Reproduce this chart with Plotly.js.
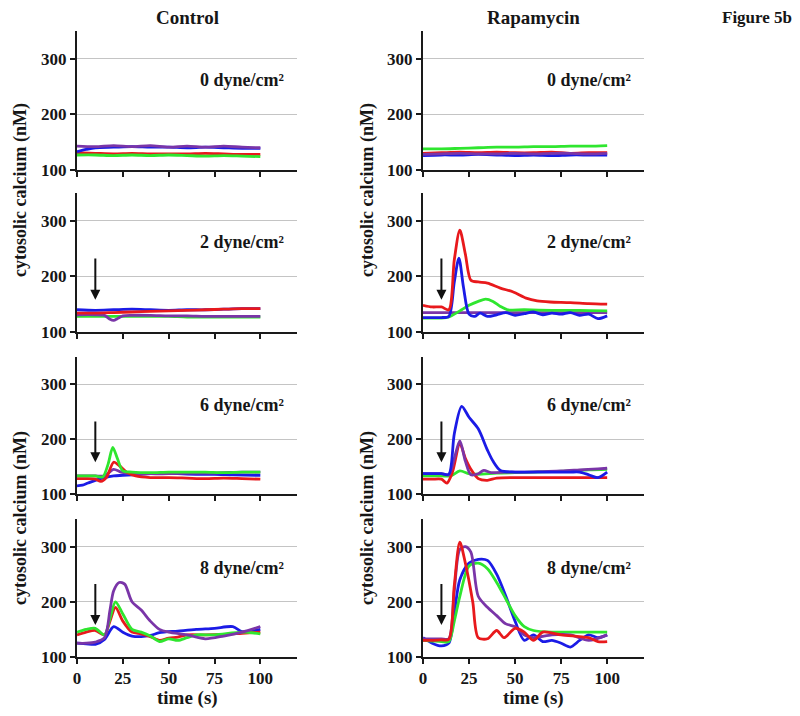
<!DOCTYPE html>
<html>
<head>
<meta charset="utf-8">
<script src="https://cdn.plot.ly/plotly-3.0.1.min.js"></script>
<style>html,body{margin:0;padding:0;background:#fff;}#chart{width:800px;height:716px;}</style>
</head>
<body>
<div id="chart"></div>
<script>
// ---------- Data ----------
const panelTitles = ["0 dyne/cm²", "2 dyne/cm²", "6 dyne/cm²", "8 dyne/cm²"];
const columnTitles = ["Control", "Rapamycin"];
const xTicks = [0, 25, 50, 75, 100];
const yTicks = [100, 200, 300];

// Control, 0 dyne
const c0_t = [0, 10, 20, 30, 40, 50, 60, 70, 80, 90, 100];
const c0_red = [131, 130, 129, 130, 129, 129, 129, 130, 129, 128, 128];
const c0_blue_t = [0, 5, 10, 20, 30, 40, 50, 60, 70, 80, 90, 100];
const c0_blue = [133, 137, 140, 141, 142, 141, 141, 140, 141, 140, 139, 139];
const c0_green = [127, 127, 126, 127, 126, 127, 126, 125, 126, 125, 124];
const c0_purple = [143, 142, 144, 142, 144, 141, 143, 141, 143, 141, 140];

// Rapamycin, 0 dyne
const r0_t = [0, 10, 20, 30, 40, 50, 60, 70, 80, 90, 100];
const r0_red = [130, 131, 132, 131, 132, 131, 131, 132, 130, 131, 131];
const r0_blue = [126, 127, 127, 128, 127, 126, 127, 126, 127, 127, 127];
const r0_green = [138, 138, 139, 140, 141, 141, 142, 142, 143, 143, 144];
const r0_purple = [128, 129, 130, 129, 129, 130, 129, 130, 130, 129, 130];

// Control, 2 dyne
const c2_t = [0, 10, 20, 30, 40, 50, 60, 70, 80, 90, 100];
const c2_red = [134, 134, 135, 136, 137, 138, 139, 140, 141, 142, 142];
const c2_blue = [140, 139, 140, 141, 140, 139, 140, 140, 141, 142, 142];
const c2_green = [128, 128, 128, 128, 128, 128, 127, 127, 127, 127, 127];
const c2_purple_t = [0, 10, 15, 18, 20, 22, 25, 30, 40, 50, 60, 70, 80, 90, 100];
const c2_purple = [131, 131, 130, 123, 121, 124, 129, 130, 130, 129, 129, 128, 128, 128, 128];

// Rapamycin, 2 dyne
const r2_red_t = [0, 5, 10, 14, 17, 20, 23, 26, 30, 35, 42, 49, 56, 62, 69, 80, 90, 100];
const r2_red = [148, 145, 145, 140, 230, 283, 240, 193, 190, 188, 179, 172, 161, 156, 154, 153, 151, 150];
const r2_blue_t = [0, 5, 10, 14, 17, 19.5, 22, 25, 28, 31, 35, 40, 45, 50, 55, 60, 65, 70, 75, 80, 85, 90, 95, 100];
const r2_blue = [126, 126, 126, 128, 190, 233, 180, 132, 128, 134, 128, 131, 135, 130, 133, 136, 131, 134, 132, 135, 130, 132, 124, 129];
const r2_green_t = [0, 5, 10, 14, 20, 25, 30, 34, 38, 42, 46, 55, 70, 85, 100];
const r2_green = [125, 125, 125, 127, 138, 148, 155, 159, 155, 146, 140, 140, 139, 139, 138];
const r2_purple_t = [0, 20, 40, 60, 80, 100];
const r2_purple = [135, 135, 135, 135, 135, 135];

// Control, 6 dyne
const c6_red_t = [0, 5, 10, 13, 16, 20, 23, 27, 32, 40, 50, 60, 70, 80, 90, 100];
const c6_red = [128, 128, 127, 123, 130, 158, 152, 140, 133, 130, 130, 129, 128, 129, 128, 127];
const c6_blue_t = [0, 3, 6, 10, 15, 20, 25, 35, 45, 55, 65, 75, 85, 100];
const c6_blue = [115, 116, 120, 125, 130, 133, 134, 136, 138, 137, 136, 136, 135, 134];
const c6_green_t = [0, 5, 10, 14, 17, 19.5, 22, 25, 30, 40, 50, 60, 70, 80, 90, 100];
const c6_green = [133, 133, 133, 131, 155, 185, 165, 142, 140, 139, 140, 140, 140, 139, 140, 140];
const c6_purple_t = [0, 10, 15, 20, 24, 30, 40, 50, 60, 70, 80, 90, 100];
const c6_purple = [133, 133, 133, 145, 140, 137, 137, 137, 138, 138, 139, 140, 140];

// Rapamycin, 6 dyne
const r6_red_t = [0, 5, 10, 13, 16, 20, 23, 26, 30, 35, 40, 50, 60, 70, 80, 90, 100];
const r6_red = [127, 127, 127, 120, 140, 192, 165, 145, 128, 125, 129, 130, 130, 130, 130, 130, 130];
const r6_blue_t = [0, 5, 10, 14, 17, 21, 25, 30, 35, 38, 42, 50, 60, 70, 80, 85, 90, 95, 100];
const r6_blue = [137, 137, 137, 136, 210, 260, 240, 219, 180, 160, 143, 140, 140, 140, 140, 140, 135, 130, 140];
const r6_green_t = [0, 10, 15, 20, 25, 30, 40, 50, 60, 70, 80, 90, 100];
const r6_green = [133, 133, 133, 142, 137, 136, 138, 139, 140, 141, 142, 144, 145];
const r6_purple_t = [0, 10, 14, 17, 20, 23, 26, 30, 33, 37, 45, 55, 65, 75, 85, 95, 100];
const r6_purple = [137, 137, 135, 165, 197, 160, 135, 137, 143, 139, 140, 140, 141, 142, 144, 146, 147];

// Control, 8 dyne
const c8_red_t = [0, 5, 10, 15, 18, 21, 25, 30, 35, 40, 45, 50, 55, 60, 70, 80, 90, 100];
const c8_red = [140, 145, 148, 140, 165, 190, 165, 145, 142, 137, 130, 134, 136, 140, 140, 141, 143, 145];
const c8_blue_t = [0, 5, 10, 15, 20, 25, 30, 35, 40, 45, 55, 65, 75, 85, 90, 95, 100];
const c8_blue = [125, 124, 123, 132, 155, 145, 138, 137, 139, 144, 147, 150, 152, 155, 146, 147, 150];
const c8_green_t = [0, 5, 10, 15, 18, 21, 25, 30, 35, 40, 45, 50, 55, 60, 65, 75, 90, 100];
const c8_green = [145, 150, 152, 140, 170, 200, 178, 150, 145, 138, 128, 133, 130, 135, 140, 140, 145, 142];
const c8_purple_t = [0, 5, 10, 15, 18, 20, 23, 26, 30, 35, 40, 45, 50, 60, 70, 80, 90, 100];
const c8_purple = [125, 125, 127, 135, 185, 220, 235, 232, 200, 185, 165, 150, 145, 140, 133, 138, 145, 155];

// Rapamycin, 8 dyne
const r8_red_t = [0, 5, 10, 14, 17, 20, 23, 27, 30, 35, 40, 44, 50, 55, 60, 65, 75, 85, 90, 95, 100];
const r8_red = [130, 130, 131, 132, 230, 308, 270, 200, 135, 133, 148, 135, 152, 145, 130, 145, 140, 137, 135, 128, 128];
const r8_blue_t = [0, 5, 10, 14, 17, 20, 25, 30, 35, 40, 45, 50, 55, 60, 65, 70, 75, 80, 85, 90, 95, 100];
const r8_blue = [135, 125, 120, 125, 180, 240, 270, 277, 275, 250, 210, 165, 130, 140, 128, 130, 125, 118, 130, 140, 135, 140];
const r8_green_t = [0, 5, 10, 14, 17, 20, 25, 30, 35, 40, 45, 50, 55, 60, 70, 80, 90, 100];
const r8_green = [130, 129, 128, 128, 165, 210, 265, 270, 260, 235, 205, 175, 155, 148, 145, 145, 145, 145];
const r8_purple_t = [0, 5, 10, 14, 17, 20, 23, 26, 30, 35, 40, 45, 50, 55, 60, 70, 80, 90, 100];
const r8_purple = [133, 133, 133, 133, 220, 295, 300, 290, 210, 190, 175, 160, 155, 140, 135, 140, 140, 130, 140];

const colors = {red: "#e8191c", blue: "#1b1be6", green: "#2fe62f", purple: "#7a35a8"};

// arrow: from (arrowT, arrowFrom) down to (arrowT, arrowTo)
const arrowT = 10, arrowFrom = 235, arrowTo = 158;

// ---------- Build ----------
const panels = [
  {row: 0, col: 0, s: [["red", c0_t, c0_red], ["blue", c0_blue_t, c0_blue], ["green", c0_t, c0_green], ["purple", c0_t, c0_purple]]},
  {row: 0, col: 1, s: [["red", r0_t, r0_red], ["blue", r0_t, r0_blue], ["purple", r0_t, r0_purple], ["green", r0_t, r0_green]]},
  {row: 1, col: 0, s: [["green", c2_t, c2_green], ["purple", c2_purple_t, c2_purple], ["blue", c2_t, c2_blue], ["red", c2_t, c2_red]]},
  {row: 1, col: 1, s: [["purple", r2_purple_t, r2_purple], ["green", r2_green_t, r2_green], ["blue", r2_blue_t, r2_blue], ["red", r2_red_t, r2_red]]},
  {row: 2, col: 0, s: [["blue", c6_blue_t, c6_blue], ["purple", c6_purple_t, c6_purple], ["red", c6_red_t, c6_red], ["green", c6_green_t, c6_green]]},
  {row: 2, col: 1, s: [["green", r6_green_t, r6_green], ["red", r6_red_t, r6_red], ["purple", r6_purple_t, r6_purple], ["blue", r6_blue_t, r6_blue]]},
  {row: 3, col: 0, s: [["blue", c8_blue_t, c8_blue], ["red", c8_red_t, c8_red], ["green", c8_green_t, c8_green], ["purple", c8_purple_t, c8_purple]]},
  {row: 3, col: 1, s: [["blue", r8_blue_t, r8_blue], ["green", r8_green_t, r8_green], ["purple", r8_purple_t, r8_purple], ["red", r8_red_t, r8_red]]}
];

const W = 800, H = 716;
const mL = 77, mR = 156, mT = 31, mB = 59;
const pw = W - mL - mR, ph = H - mT - mB;
const colPx = [[77, 297], [423, 644]];
const rowPx = [[31, 170], [193, 332], [357, 494], [519, 657]];
const px2x = p => (p - mL) / pw;
const py2y = p => (H - mB - p) / ph;

const FONT = "Liberation Serif, Times New Roman, serif";
const TXT = "#161616";
const traces = [];
const layout = {
  width: W, height: H,
  margin: {l: mL, r: mR, t: mT, b: mB, pad: 0},
  paper_bgcolor: "#fff", plot_bgcolor: "rgba(0,0,0,0)",
  showlegend: false,
  font: {family: FONT, size: 15, color: TXT, weight: "bold"},
  annotations: []
};

panels.forEach((p, i) => {
  const n = i + 1;
  const xa = "x" + n, ya = "y" + n;
  p.s.forEach(([c, t, v]) => {
    traces.push({
      x: t, y: v, xaxis: xa, yaxis: ya, type: "scatter", mode: "lines",
      line: {color: colors[c], width: 2.8, shape: "spline", smoothing: 0.8},
      hoverinfo: "skip"
    });
  });
  const cp = colPx[p.col], rp = rowPx[p.row];
  layout["xaxis" + n] = {
    domain: [px2x(cp[0]), px2x(cp[1])], anchor: ya, range: [0, 120],
    tickvals: xTicks, showticklabels: p.row === 3,
    showline: true, linecolor: "#1a1a1a", linewidth: 2,
    ticks: "outside", ticklen: 5, tickwidth: 2, tickcolor: "#1a1a1a",
    showgrid: false, zeroline: false, fixedrange: true,
    tickfont: {family: FONT, size: 17, color: TXT, weight: "bold"}
  };
  layout["yaxis" + n] = {
    domain: [py2y(rp[1]), py2y(rp[0])], anchor: xa, range: [100, 350],
    tickvals: yTicks, showline: true, linecolor: "#1a1a1a", linewidth: 2,
    ticks: "outside", ticklen: 5, tickwidth: 2, tickcolor: "#1a1a1a",
    showgrid: true, gridcolor: "#c4c4c4", gridwidth: 1, zeroline: false, fixedrange: true,
    tickfont: {family: FONT, size: 17, color: TXT, weight: "bold"}
  };
  layout.annotations.push({
    xref: xa, yref: ya, x: 114, y: 262, xanchor: "right", yanchor: "middle",
    text: panelTitles[p.row], showarrow: false,
    font: {family: FONT, size: 18, color: TXT, weight: "bold"}
  });
  if (p.row > 0) {
    layout.annotations.push({
      xref: xa, yref: ya, x: arrowT, y: arrowTo, axref: xa, ayref: ya,
      ax: arrowT, ay: arrowFrom, text: "", showarrow: true,
      arrowhead: 2, arrowsize: 1, arrowwidth: 2, arrowcolor: "#111"
    });
  }
});

columnTitles.forEach((t, c) => {
  layout.annotations.push({
    xref: "paper", yref: "paper", x: px2x((colPx[c][0] + colPx[c][1]) / 2), y: py2y(17),
    xanchor: "center", yanchor: "middle", text: t, showarrow: false,
    font: {family: FONT, size: 19, color: TXT, weight: "bold"}
  });
  layout.annotations.push({
    xref: "paper", yref: "paper", x: px2x((colPx[c][0] + colPx[c][1]) / 2), y: py2y(698),
    xanchor: "center", yanchor: "middle", text: "time (s)", showarrow: false,
    font: {family: FONT, size: 19, color: TXT, weight: "bold"}
  });
  [190, 518].forEach(cy => {
    layout.annotations.push({
      xref: "paper", yref: "paper", x: px2x(c === 0 ? 20 : 367), y: py2y(cy),
      xanchor: "center", yanchor: "middle", textangle: -90,
      text: "cytosolic calcium (nM)", showarrow: false,
      font: {family: FONT, size: 18, color: TXT, weight: "bold"}
    });
  });
});
layout.annotations.push({
  xref: "paper", yref: "paper", x: px2x(757), y: py2y(17),
  xanchor: "center", yanchor: "middle", text: "Figure 5b", showarrow: false,
  font: {family: FONT, size: 17, color: TXT, weight: "bold"}
});

Plotly.newPlot("chart", traces, layout, {displayModeBar: false, staticPlot: true});
</script>
</body>
</html>
